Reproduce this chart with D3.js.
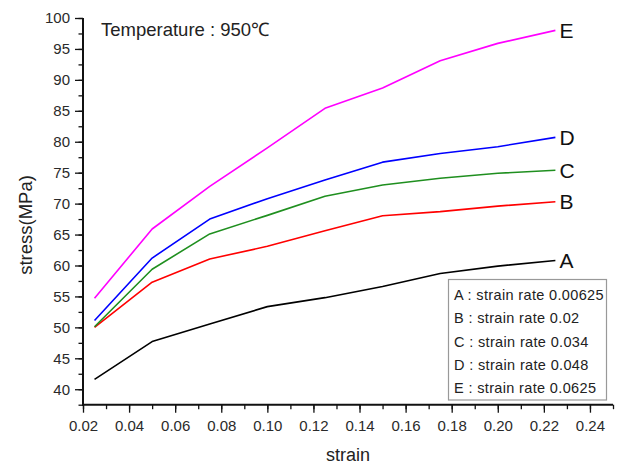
<!DOCTYPE html>
<html>
<head>
<meta charset="utf-8">
<script src="https://cdn.jsdelivr.net/npm/d3@7/dist/d3.min.js"></script>
<style>
  html, body { margin: 0; padding: 0; background: #fff; }
  svg { display: block; }
  text { font-family: "Liberation Sans", Arial, sans-serif; }
</style>
</head>
<body>
<svg id="chart" width="617" height="464"></svg>
<script>
// ---- data ----
const strain = [0.025, 0.05, 0.075, 0.1, 0.125, 0.15, 0.175, 0.2, 0.225];
const seriesNames = ["A", "B", "C", "D", "E"];
const seriesA = [41.6, 47.7, 50.55, 53.35, 54.8, 56.6, 58.7, 59.9, 60.8];
const seriesB = [50.0, 57.3, 61.05, 63.1, 65.6, 68.05, 68.7, 69.6, 70.3];
const seriesC = [50.1, 59.4, 65.1, 68.1, 71.2, 73.0, 74.1, 74.9, 75.4];
const seriesD = [51.1, 61.2, 67.5, 70.8, 73.8, 76.7, 78.1, 79.2, 80.7];
const seriesE = [54.7, 65.9, 72.8, 79.0, 85.4, 88.7, 93.1, 95.9, 98.0];
const legendLabels = [
  "A : strain rate 0.00625",
  "B : strain rate 0.02",
  "C : strain rate 0.034",
  "D : strain rate 0.048",
  "E : strain rate 0.0625"
];
const xTicks = [0.02, 0.04, 0.06, 0.08, 0.10, 0.12, 0.14, 0.16, 0.18, 0.20, 0.22, 0.24];
const yTicks = [40, 45, 50, 55, 60, 65, 70, 75, 80, 85, 90, 95, 100];
const titleText = "Temperature : 950\u2103";
const xTitle = "strain";
const yTitle = "stress(MPa)";

const colors = ["#000000", "#ff0000", "#1f8f1f", "#0000ff", "#ff00ff"];
const allSeries = [seriesA, seriesB, seriesC, seriesD, seriesE];

// ---- layout ----
const svg = d3.select("#chart");
const plotLeft = 83, plotRight = 613, plotTop = 18, plotBottom = 404.7;

const x = d3.scaleLinear().domain([0.02, 0.25]).range([plotLeft, plotRight]);
const y = d3.scaleLinear().domain([37.5, 100]).range([plotBottom, plotTop]);

const axisColor = "#111";
const labelColor = "#2a2a2a";

// minor ticks
const xMinor = d3.range(0.02, 0.2501, 0.01).map(v => +v.toFixed(3));
const yMinor = d3.range(37.5, 100.01, 2.5);

// X axis
const gx = svg.append("g").attr("transform", `translate(0,${plotBottom})`);
gx.append("g").call(d3.axisBottom(x).tickValues(xMinor).tickSize(4.5).tickFormat(""))
  .call(g => g.select(".domain").remove())
  .call(g => g.selectAll("line").attr("stroke", axisColor).attr("stroke-width", 1.3));
gx.append("g").call(d3.axisBottom(x).tickValues(xTicks).tickSize(8).tickPadding(8).tickFormat(d3.format(".2f")))
  .call(g => g.select(".domain").remove())
  .call(g => g.selectAll("line").attr("stroke", axisColor).attr("stroke-width", 1.3))
  .call(g => g.selectAll("text").attr("fill", labelColor).style("font-size", "15px")
      .style("font-family", '"Liberation Sans", Arial, sans-serif'));
gx.append("line").attr("x1", plotLeft - 1).attr("x2", plotRight).attr("y1", 0).attr("y2", 0)
  .attr("stroke", axisColor).attr("stroke-width", 2);

// Y axis
const gy = svg.append("g").attr("transform", `translate(${plotLeft},0)`);
gy.append("g").call(d3.axisLeft(y).tickValues(yMinor).tickSize(4.5).tickFormat(""))
  .call(g => g.select(".domain").remove())
  .call(g => g.selectAll("line").attr("stroke", axisColor).attr("stroke-width", 1.3));
gy.append("g").call(d3.axisLeft(y).tickValues(yTicks).tickSize(8).tickPadding(5).tickFormat(d3.format("d")))
  .call(g => g.select(".domain").remove())
  .call(g => g.selectAll("line").attr("stroke", axisColor).attr("stroke-width", 1.3))
  .call(g => g.selectAll("text").attr("fill", labelColor).style("font-size", "15px")
      .style("font-family", '"Liberation Sans", Arial, sans-serif'));
gy.append("line").attr("x1", 0).attr("x2", 0).attr("y1", plotTop).attr("y2", plotBottom + 1)
  .attr("stroke", axisColor).attr("stroke-width", 2);

// Lines
const line = d3.line().x((d, i) => x(strain[i])).y(d => y(d));
allSeries.forEach((s, k) => {
  svg.append("path").datum(s).attr("d", line)
    .attr("fill", "none").attr("stroke", colors[k]).attr("stroke-width", 1.6)
    .attr("stroke-linejoin", "round");
  const last = s.length - 1;
  svg.append("text").attr("x", x(strain[last]) + 4).attr("y", y(s[last]))
    .attr("dominant-baseline", "central").attr("fill", "#111")
    .style("font-size", "21px").text(seriesNames[k]);
});

// Title
svg.append("text").attr("x", 101).attr("y", 36).attr("fill", "#222")
  .style("font-size", "18.5px").text(titleText);

// Axis titles
svg.append("text").attr("x", 348).attr("y", 461).attr("text-anchor", "middle")
  .attr("fill", "#222").style("font-size", "18px").text(xTitle);
svg.append("text").attr("transform", "translate(32,225) rotate(-90)").attr("text-anchor", "middle")
  .attr("fill", "#222").style("font-size", "18.5px").text(yTitle);

// Legend
const lg = svg.append("g");
lg.append("rect").attr("x", 448.5).attr("y", 279.5).attr("width", 158).attr("height", 120.5)
  .attr("fill", "#fff").attr("stroke", "#999").attr("stroke-width", 1.2);
legendLabels.forEach((t, i) => {
  lg.append("text").attr("x", 454).attr("y", 300 + i * 23.33)
    .attr("fill", "#222").style("font-size", "14.5px").style("letter-spacing", "0.35px").text(t);
});
</script>
</body>
</html>
